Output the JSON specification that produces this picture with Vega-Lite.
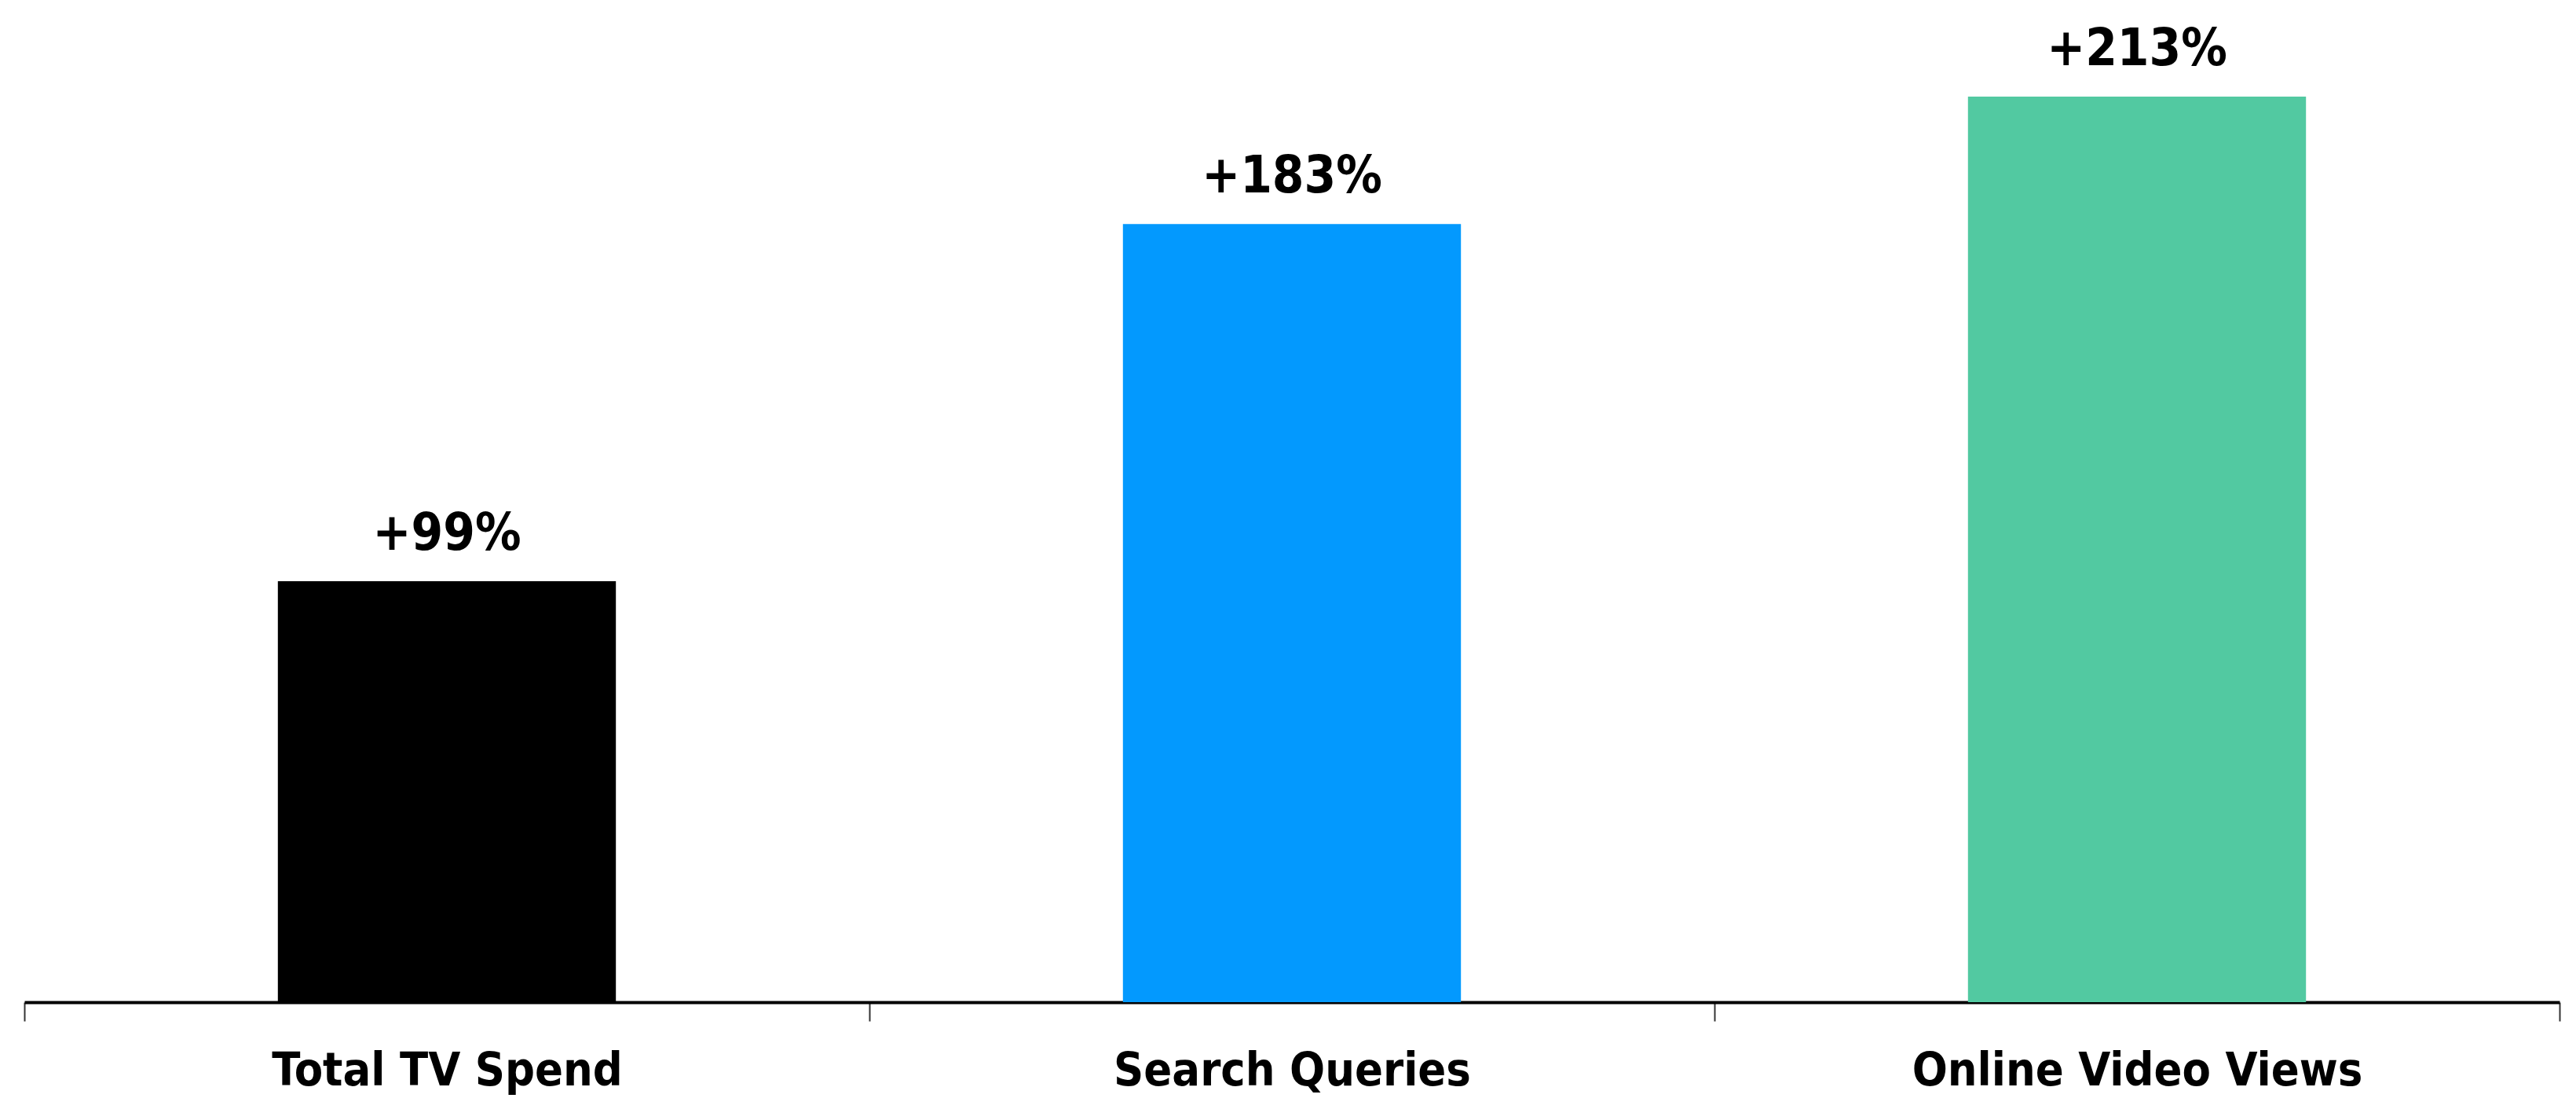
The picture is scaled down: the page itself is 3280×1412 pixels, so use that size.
{
  "$schema": "https://vega.github.io/schema/vega-lite/v6.json",
  "width": 3228,
  "height": 1276,
  "autosize": {"type": "none"},
  "padding": {"left": 31, "top": 0, "right": 21, "bottom": 136},
  "background": "white",
  "config": {"view": {"stroke": null}},
  "data": {"values": [
    {"category": "Total TV Spend", "value": 99, "label": "+99%"},
    {"category": "Search Queries", "value": 183, "label": "+183%"},
    {"category": "Online Video Views", "value": 213, "label": "+213%"}
  ]},
  "encoding": {
    "x": {"field": "category", "type": "nominal", "sort": null,
      "scale": {"paddingInner": 0, "paddingOuter": 0},
      "axis": {"title": null, "labelAngle": 0, "domainColor": "#000000", "domainWidth": 4,
        "tickBand": "extent", "tickColor": "#333333", "tickWidth": 2, "tickSize": 24, "labelLimit": 0,
        "labelFont": "DejaVu Sans Condensed", "labelFontWeight": "bold", "labelFontSize": 59,
        "labelColor": "#000000", "labelBaseline": "alphabetic", "labelPadding": 81}},
    "y": {"field": "value", "type": "quantitative", "scale": {"domain": [0, 235.7]}, "axis": null}
  },
  "layer": [
    {"mark": {"type": "bar", "width": {"band": 0.4}},
     "encoding": {"color": {"field": "category", "type": "nominal", "legend": null,
       "scale": {"domain": ["Total TV Spend", "Search Queries", "Online Video Views"], "range": ["#000000", "#0399FE", "#52C9A1"]}}}},
    {"mark": {"type": "text", "baseline": "alphabetic", "dy": -40, "font": "DejaVu Sans Condensed", "fontWeight": "bold", "fontSize": 65, "color": "#000000"},
     "encoding": {"text": {"field": "label"}}}
  ]
}
